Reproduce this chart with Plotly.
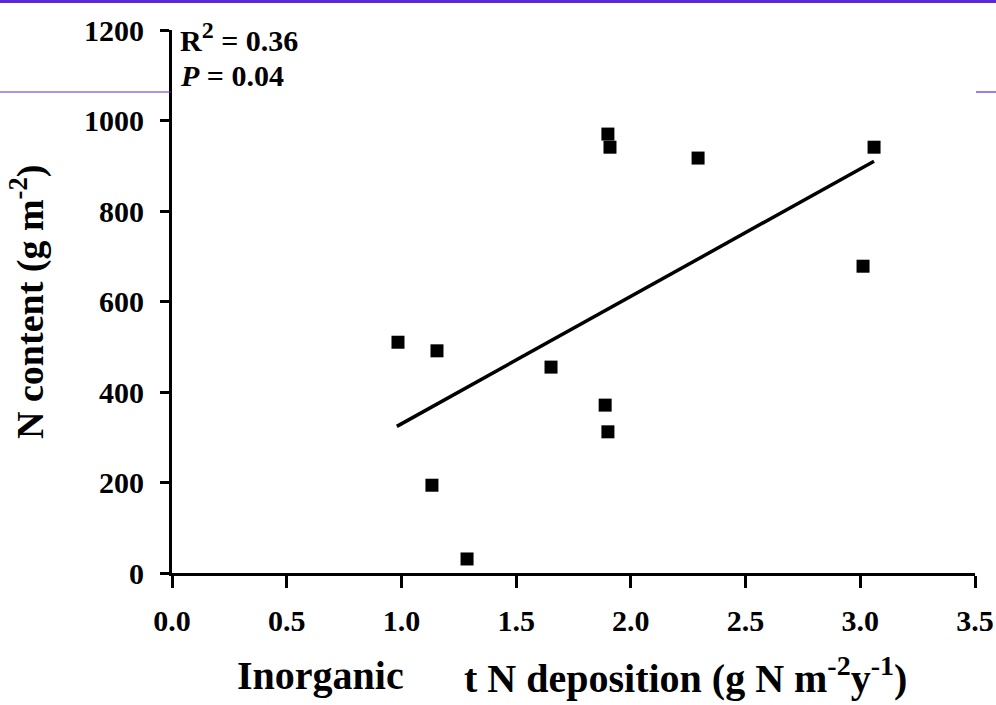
import plotly.graph_objects as go

# Data
deposition = [0.985, 1.155, 1.133, 1.286, 1.652, 1.888, 1.900, 1.900, 1.909, 2.293, 3.012, 3.060]
n_content = [510, 491, 194, 31, 455, 371, 312, 970, 941, 917, 678, 941]

trend_x = [0.98, 3.06]
trend_y = [324, 910]

x_ticks = [0.0, 0.5, 1.0, 1.5, 2.0, 2.5, 3.0, 3.5]
y_ticks = [0, 200, 400, 600, 800, 1000, 1200]

FONT = "Liberation Serif"

fig = go.Figure()
fig.add_trace(go.Scatter(
    x=trend_x, y=trend_y, mode="lines",
    line=dict(color="black", width=3.5), showlegend=False, hoverinfo="skip"))
fig.add_trace(go.Scatter(
    x=deposition, y=n_content, mode="markers",
    marker=dict(symbol="square", size=13, color="black"), showlegend=False))

fig.update_layout(
    width=996, height=705,
    margin=dict(l=172, r=21, t=30, b=132),
    paper_bgcolor="white", plot_bgcolor="white",
    font=dict(family=FONT, color="black"),
    xaxis=dict(
        range=[0, 3.5], tickvals=x_ticks, tickformat=".1f",
        showline=True, linecolor="black", linewidth=3,
        ticks="outside", ticklen=12, tickwidth=3, tickcolor="black",
        showgrid=False, zeroline=False, automargin=False,
        tickfont=dict(family=FONT, size=30, color="black", weight="bold"),
        ticklabelstandoff=7,
    ),
    yaxis=dict(
        range=[0, 1200], tickvals=y_ticks,
        showline=True, linecolor="black", linewidth=3,
        ticks="outside", ticklen=9, tickwidth=3, tickcolor="black",
        showgrid=False, zeroline=False, automargin=False,
        tickfont=dict(family=FONT, size=30, color="black", weight="bold"),
        ticklabelstandoff=10,
    ),
)

# Axis titles
fig.add_annotation(
    text="<b>N content (g m<sup>-2</sup>)</b>", textangle=-90,
    xref="paper", yref="paper", x=-0.18, y=0.5,
    xanchor="center", yanchor="middle", showarrow=False,
    font=dict(family=FONT, size=38, color="black"))
fig.add_annotation(
    text="<b>Inorganic</b>",
    xref="paper", yref="paper", x=0.078, y=-0.189,
    xanchor="left", yanchor="middle", showarrow=False,
    font=dict(family=FONT, size=40, color="black"))
fig.add_annotation(
    text="<b>t N deposition (g N m<sup>-2</sup>y<sup>-1</sup>)</b>",
    xref="paper", yref="paper", x=0.3615, y=-0.189,
    xanchor="left", yanchor="middle", showarrow=False,
    font=dict(family=FONT, size=40, color="black"))

# Statistics
fig.add_annotation(
    text="<b>R<sup><span style=\"font-size:24px\">2</span></sup> = 0.36</b>",
    xref="paper", yref="paper", x=0.008, y=0.987,
    xanchor="left", yanchor="middle", showarrow=False,
    font=dict(family=FONT, size=30, color="black"))
fig.add_annotation(
    text="<b><i>P</i> = 0.04</b>",
    xref="paper", yref="paper", x=0.008, y=0.917,
    xanchor="left", yanchor="middle", showarrow=False,
    font=dict(family=FONT, size=30, color="black"))

# Decorative slide lines
PW = 803.0
PH = 543.0
def px_x(p):
    return (p - 172) / PW
def px_y(p):
    return (573 - p) / PH

fig.add_shape(type="rect", xref="paper", yref="paper",
              x0=px_x(0), x1=px_x(996), y0=px_y(3), y1=px_y(0),
              fillcolor="#5A28D8", line=dict(width=0), layer="above")
fig.add_shape(type="line", xref="paper", yref="paper",
              x0=px_x(0), x1=px_x(171), y0=px_y(92), y1=px_y(92),
              line=dict(color="#5A28D8", width=1.2))
fig.add_shape(type="line", xref="paper", yref="paper",
              x0=px_x(976), x1=px_x(996), y0=px_y(92), y1=px_y(92),
              line=dict(color="#5A28D8", width=1.2))

fig.write_html(
    "out.html",
    config={"displayModeBar": False},
    post_script="document.body.style.margin='0';document.body.style.overflow='hidden';",
)
